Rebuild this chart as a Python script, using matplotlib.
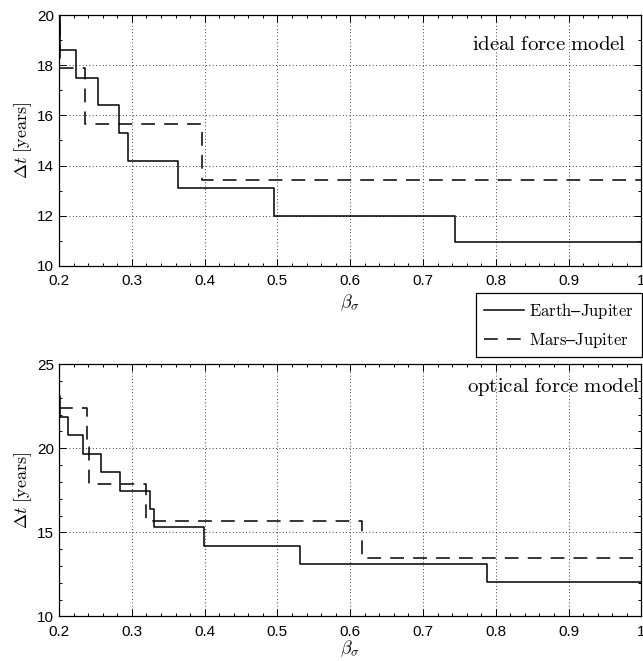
import numpy as np
import matplotlib
matplotlib.use("Agg")
import matplotlib.pyplot as plt
from matplotlib.ticker import MultipleLocator

plt.rcParams["font.family"] = ["Liberation Sans", "DejaVu Sans"]
plt.rcParams["mathtext.fontset"] = "cm"

# ideal force model: step breakpoints (beta_sigma) and transfer times (years)
ideal_ej_beta = [0.2, 0.2015, 0.224, 0.254, 0.283, 0.295, 0.364, 0.495, 0.7435, 1.0]
ideal_ej_dt = [21.5, 18.6, 17.5, 16.4, 15.3, 14.2, 13.1, 12.0, 10.95, 10.95]
ideal_mj_beta = [0.2, 0.202, 0.235, 0.396, 1.0]
ideal_mj_dt = [21.5, 17.9, 15.67, 13.43, 13.43]

# optical force model
optical_ej_beta = [0.2, 0.2015, 0.212, 0.233, 0.2575, 0.2835, 0.3247, 0.3307,
                   0.3997, 0.531, 0.788, 1.0]
optical_ej_dt = [23.1, 21.85, 20.77, 19.68, 18.59, 17.48, 16.39, 15.31,
                 14.2, 13.13, 12.03, 12.03]
optical_mj_beta = [0.2, 0.238, 0.241, 0.32, 0.616, 1.0]
optical_mj_dt = [22.38, 20.1, 17.88, 15.67, 13.45, 13.45]

x_ticks = [0.2, 0.3, 0.4, 0.5, 0.6, 0.7, 0.8, 0.9, 1.0]
x_tick_labels = ["0.2", "0.3", "0.4", "0.5", "0.6", "0.7", "0.8", "0.9", "1"]

DASH = (0, (9, 6))
LW = 1.1


def style_axes(ax, ylim, ystep, xpad):
    ax.set_xlim(0.2, 1.0)
    ax.set_ylim(*ylim)
    ax.set_xticks(x_ticks)
    ax.set_xticklabels(x_tick_labels)
    ax.yaxis.set_major_locator(MultipleLocator(ystep))
    ax.xaxis.set_minor_locator(MultipleLocator(0.02))
    ax.yaxis.set_minor_locator(MultipleLocator(1))
    ax.tick_params(which="both", direction="in", top=True, right=True,
                   labelsize=11, width=0.7)
    ax.tick_params(which="major", length=5)
    ax.tick_params(which="minor", length=2.5)
    ax.tick_params(axis="x", pad=6)
    ax.tick_params(axis="y", pad=3.5)
    ax.grid(True, which="major", color="k", linestyle=(0, (1, 3)), linewidth=0.6)
    for s in ax.spines.values():
        s.set_linewidth(0.9)
    ax.set_xlabel(r"$\beta_\sigma$", fontsize=13, labelpad=xpad)
    ax.set_ylabel(r"$\Delta t\ \mathrm{[years]}$", fontsize=13, labelpad=2)


fig = plt.figure(figsize=(6.43, 6.61), dpi=100)
ax1 = fig.add_axes([0.0918, 0.5976, 0.9057, 0.3797])
ax2 = fig.add_axes([0.0918, 0.0676, 0.9057, 0.3813])

l1, = ax1.step(ideal_ej_beta, ideal_ej_dt, where="post", color="k", lw=LW,
               label="$\\mathrm{Earth}$\u2013$\\mathrm{Jupiter}$")
l2, = ax1.step(ideal_mj_beta, ideal_mj_dt, where="post", color="k", lw=LW,
               linestyle=DASH, label="$\\mathrm{Mars}$\u2013$\\mathrm{Jupiter}$")
style_axes(ax1, (10, 20), 2, 3)
ax1.text(0.975, 0.861, r"$\mathrm{ideal\ force\ model}$", transform=ax1.transAxes,
         ha="right", va="baseline", fontsize=15)

ax2.step(optical_ej_beta, optical_ej_dt, where="post", color="k", lw=LW)
ax2.step(optical_mj_beta, optical_mj_dt, where="post", color="k", lw=LW,
         linestyle=DASH)
style_axes(ax2, (10, 25), 5, 0)
ax2.text(0.997, 0.891, r"$\mathrm{optical\ force\ model}$", transform=ax2.transAxes,
         ha="right", va="baseline", fontsize=15)

leg = fig.legend(handles=[l1, l2], loc="upper right",
                 bbox_to_anchor=(0.998, 0.5567), borderaxespad=0,
                 fontsize=12, frameon=True,
                 fancybox=False, edgecolor="k", framealpha=1,
                 handlelength=2.45, handletextpad=0.3, borderpad=0.45,
                 labelspacing=0.6)
leg.get_frame().set_linewidth(0.9)

fig.savefig("out.png", dpi=100)
